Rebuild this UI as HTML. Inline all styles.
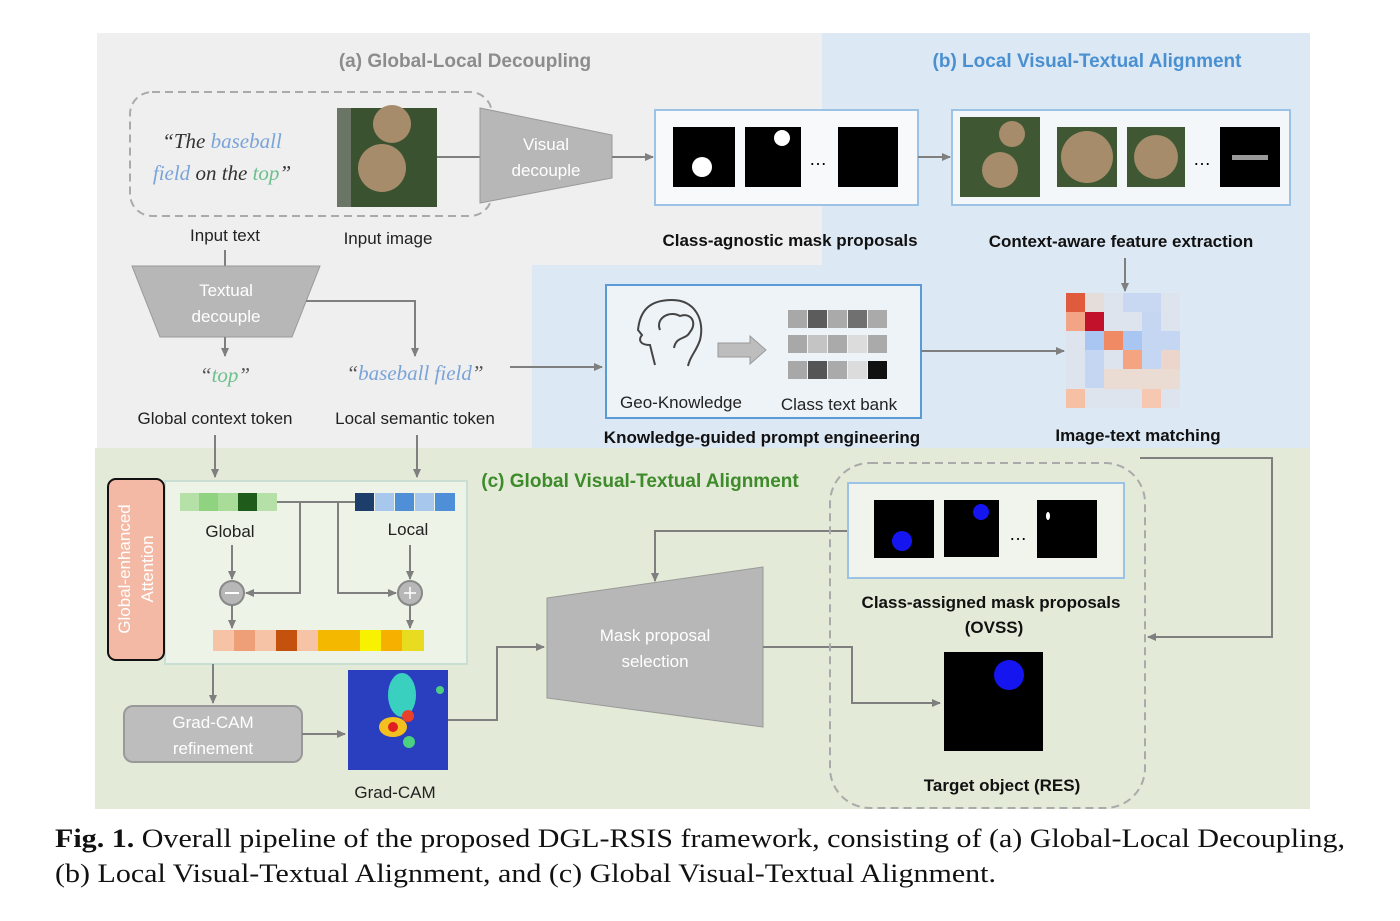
<!DOCTYPE html>
<html><head><meta charset="utf-8"><style>
html,body{margin:0;padding:0;background:#fff;width:1400px;height:921px;overflow:hidden}
svg{display:block}
.s{font-family:"Liberation Sans",sans-serif}
</style></head><body>
<svg width="1400" height="921" viewBox="0 0 1400 921" xmlns="http://www.w3.org/2000/svg" class="s">
<defs>
<marker id="a" markerWidth="10" markerHeight="10" refX="8" refY="5" orient="auto" markerUnits="userSpaceOnUse"><path d="M0,1 L9,5 L0,9 Z" fill="#7f7f7f"/></marker>
</defs>
<!-- backgrounds -->
<rect x="97" y="33" width="1213" height="416" fill="#efefef"/>
<rect x="822" y="33" width="488" height="233" fill="#dce8f4"/>
<rect x="532" y="265" width="778" height="184" fill="#dce8f4"/>
<rect x="95" y="448" width="1215" height="361" fill="#e3ead7"/>

<text x="465" y="67" font-size="19" font-weight="bold" fill="#8c8c8c" text-anchor="middle">(a) Global-Local Decoupling</text>
<text x="1087" y="67" font-size="19" font-weight="bold" fill="#4a90d0" text-anchor="middle">(b) Local Visual-Textual Alignment</text>
<text x="640" y="487" font-size="19" font-weight="bold" fill="#3d8b2a" text-anchor="middle">(c) Global Visual-Textual Alignment</text>

<!-- input dashed -->
<rect x="130" y="92" width="362" height="124" rx="22" fill="none" stroke="#aaa" stroke-width="2" stroke-dasharray="8,5"/>
<text x="222" y="148" font-size="21" text-anchor="middle" font-family="Liberation Serif,serif" font-style="italic"><tspan fill="#333">“The </tspan><tspan fill="#7aa3d8">baseball</tspan></text>
<text x="222" y="180" font-size="21" text-anchor="middle" font-family="Liberation Serif,serif" font-style="italic"><tspan fill="#7aa3d8">field</tspan><tspan fill="#333"> on the </tspan><tspan fill="#6cc08a">top</tspan><tspan fill="#333">”</tspan></text>
<rect x="337" y="108" width="100" height="99" fill="#3a5230"/>
<rect x="337" y="108" width="14" height="99" fill="#6b7566"/>
<circle cx="392" cy="124" r="19" fill="#a68c6a"/>
<circle cx="382" cy="168" r="24" fill="#a68c6a"/>
<line x1="437" y1="157" x2="480" y2="157" stroke="#7f7f7f" stroke-width="2"/>
<polygon points="480,108 612,135 612,178 480,203" fill="#b7b7b7" stroke="#999"/>
<text x="546" y="150" font-size="17" fill="#fff" text-anchor="middle">Visual</text>
<text x="546" y="176" font-size="17" fill="#fff" text-anchor="middle">decouple</text>
<line x1="612" y1="157" x2="653" y2="157" stroke="#7f7f7f" stroke-width="2" marker-end="url(#a)"/>

<rect x="655" y="110" width="263" height="95" fill="#f7f9fb" stroke="#9cc3e5" stroke-width="2"/>
<rect x="673" y="127" width="62" height="60" fill="#000"/><circle cx="702" cy="167" r="10" fill="#fff"/>
<rect x="745" y="127" width="56" height="60" fill="#000"/><circle cx="782" cy="138" r="8" fill="#fff"/>
<text x="818" y="165" font-size="18" text-anchor="middle">…</text>
<rect x="838" y="127" width="60" height="60" fill="#000"/>
<text x="790" y="246" font-size="17" font-weight="bold" text-anchor="middle" fill="#111">Class-agnostic mask proposals</text>
<line x1="918" y1="157" x2="950" y2="157" stroke="#7f7f7f" stroke-width="2" marker-end="url(#a)"/>

<rect x="952" y="110" width="338" height="95" fill="#f4f7fa" stroke="#9cc3e5" stroke-width="2"/>
<rect x="960" y="117" width="80" height="80" fill="#3f5733"/><circle cx="1012" cy="134" r="13" fill="#a68c6a"/><circle cx="1000" cy="170" r="18" fill="#a68c6a"/>
<rect x="1057" y="127" width="60" height="60" fill="#3f5733"/><circle cx="1087" cy="157" r="26" fill="#a68c6a"/>
<rect x="1127" y="127" width="58" height="60" fill="#3f5733"/><circle cx="1156" cy="157" r="22" fill="#a68c6a"/>
<text x="1202" y="165" font-size="18" text-anchor="middle">…</text>
<rect x="1220" y="127" width="60" height="60" fill="#000"/><rect x="1232" y="155" width="36" height="5" fill="#999"/>
<text x="1121" y="247" font-size="17" font-weight="bold" text-anchor="middle" fill="#111">Context-aware feature extraction</text>
<line x1="1125" y1="258" x2="1125" y2="291" stroke="#7f7f7f" stroke-width="2" marker-end="url(#a)"/>

<!-- matrix -->
<g>
<rect x="1066" y="293" width="114" height="115" fill="#dde4ee"/>
<rect x="1066" y="293" width="19" height="19" fill="#e05a3e"/>
<rect x="1085" y="293" width="19" height="19" fill="#e4ddda"/>
<rect x="1123" y="293" width="38" height="19" fill="#c8d8f3"/>
<rect x="1066" y="312" width="19" height="19" fill="#f3a386"/>
<rect x="1085" y="312" width="19" height="19" fill="#c2112a"/>
<rect x="1142" y="312" width="19" height="19" fill="#c5d6f2"/>
<rect x="1085" y="331" width="19" height="19" fill="#a9c5f2"/>
<rect x="1104" y="331" width="19" height="19" fill="#ef8a64"/>
<rect x="1123" y="331" width="19" height="19" fill="#a9c5f2"/>
<rect x="1142" y="331" width="38" height="19" fill="#c5d6f2"/>
<rect x="1085" y="350" width="19" height="38" fill="#c5d6f2"/>
<rect x="1123" y="350" width="19" height="19" fill="#f5a482"/>
<rect x="1142" y="350" width="19" height="19" fill="#c5d6f2"/>
<rect x="1161" y="350" width="19" height="19" fill="#ecd6cc"/>
<rect x="1104" y="369" width="76" height="20" fill="#eadbd3"/>
<rect x="1066" y="389" width="19" height="19" fill="#f6c0a4"/>
<rect x="1142" y="389" width="19" height="19" fill="#f6c8b2"/>
</g>
<text x="1138" y="441" font-size="17" font-weight="bold" text-anchor="middle" fill="#111">Image-text matching</text>

<!-- knowledge box -->
<rect x="606" y="285" width="315" height="133" fill="#eef3f8" stroke="#5b9bd5" stroke-width="2"/>
<g fill="none" stroke="#444" stroke-width="2">
<path d="M655,365 L650,345 C640,345 638,340 642,335 L638,330 C640,310 650,300 672,300 C695,300 705,320 700,340 C696,352 690,356 688,366"/>
<path d="M660,330 C655,318 670,310 680,316 C690,312 698,322 690,332 C686,340 676,336 674,348"/>
</g>
<polygon points="718,343 750,343 750,336 766,350 750,364 750,357 718,357" fill="#bdbdbd" stroke="#999"/>
<g>
<rect x="788" y="310" width="19" height="18" fill="#a8a8a8"/><rect x="808" y="310" width="19" height="18" fill="#5c5c5c"/><rect x="828" y="310" width="19" height="18" fill="#aaa"/><rect x="848" y="310" width="19" height="18" fill="#707070"/><rect x="868" y="310" width="19" height="18" fill="#aaa"/>
<rect x="788" y="335" width="19" height="18" fill="#a8a8a8"/><rect x="808" y="335" width="19" height="18" fill="#c4c4c4"/><rect x="828" y="335" width="19" height="18" fill="#aaa"/><rect x="848" y="335" width="19" height="18" fill="#dcdcdc"/><rect x="868" y="335" width="19" height="18" fill="#aaa"/>
<rect x="788" y="361" width="19" height="18" fill="#a8a8a8"/><rect x="808" y="361" width="19" height="18" fill="#555"/><rect x="828" y="361" width="19" height="18" fill="#aaa"/><rect x="848" y="361" width="19" height="18" fill="#dcdcdc"/><rect x="868" y="361" width="19" height="18" fill="#111"/>
</g>
<text x="681" y="408" font-size="17" text-anchor="middle" fill="#222">Geo-Knowledge</text>
<text x="839" y="410" font-size="17" text-anchor="middle" fill="#222">Class text bank</text>
<line x1="921" y1="351" x2="1064" y2="351" stroke="#7f7f7f" stroke-width="2" marker-end="url(#a)"/>
<text x="762" y="443" font-size="17" font-weight="bold" text-anchor="middle" fill="#111">Knowledge-guided prompt engineering</text>

<!-- text branch -->
<text x="225" y="241" font-size="17" text-anchor="middle" fill="#222">Input text</text>
<text x="388" y="244" font-size="17" text-anchor="middle" fill="#222">Input image</text>
<line x1="225" y1="250" x2="225" y2="266" stroke="#7f7f7f" stroke-width="2"/>
<polygon points="132,266 320,266 292,337 160,337" fill="#b7b7b7" stroke="#999"/>
<text x="226" y="296" font-size="17" fill="#fff" text-anchor="middle">Textual</text>
<text x="226" y="322" font-size="17" fill="#fff" text-anchor="middle">decouple</text>
<polyline points="306,301 415,301 415,356" fill="none" stroke="#7f7f7f" stroke-width="2" marker-end="url(#a)"/>
<line x1="225" y1="337" x2="225" y2="356" stroke="#7f7f7f" stroke-width="2" marker-end="url(#a)"/>
<text x="225" y="382" font-size="21" text-anchor="middle" font-family="Liberation Serif,serif" font-style="italic"><tspan fill="#555">“</tspan><tspan fill="#6cc08a">top</tspan><tspan fill="#555">”</tspan></text>
<text x="415" y="380" font-size="21" text-anchor="middle" font-family="Liberation Serif,serif" font-style="italic"><tspan fill="#555">“</tspan><tspan fill="#7aa3d8">baseball field</tspan><tspan fill="#555">”</tspan></text>
<line x1="510" y1="367" x2="602" y2="367" stroke="#7f7f7f" stroke-width="2" marker-end="url(#a)"/>
<text x="215" y="424" font-size="17" text-anchor="middle" fill="#222">Global context token</text>
<text x="415" y="424" font-size="17" text-anchor="middle" fill="#222">Local semantic token</text>
<line x1="215" y1="435" x2="215" y2="477" stroke="#7f7f7f" stroke-width="2" marker-end="url(#a)"/>
<line x1="417" y1="435" x2="417" y2="477" stroke="#7f7f7f" stroke-width="2" marker-end="url(#a)"/>

<!-- attention -->
<rect x="165" y="481" width="302" height="183" fill="#eef3e8" stroke="#c9dfd4" stroke-width="2"/>
<rect x="108" y="479" width="56" height="181" rx="8" fill="#f4b9a4" stroke="#111" stroke-width="2"/>
<text transform="translate(130,569) rotate(-90)" font-size="17" fill="#fff" text-anchor="middle">Global-enhanced</text>
<text transform="translate(153,569) rotate(-90)" font-size="17" fill="#fff" text-anchor="middle">Attention</text>
<rect x="180" y="493" width="19" height="18" fill="#b5e0a8"/><rect x="199" y="493" width="19" height="18" fill="#8fd27f"/><rect x="218" y="493" width="20" height="18" fill="#a8dc98"/><rect x="238" y="493" width="19" height="18" fill="#1f5c1c"/><rect x="257" y="493" width="20" height="18" fill="#b5e0a8"/>
<rect x="355" y="493" width="19" height="18" fill="#1d3d6b"/><rect x="375" y="493" width="19" height="18" fill="#a7c8ec"/><rect x="395" y="493" width="19" height="18" fill="#4f8fd8"/><rect x="415" y="493" width="19" height="18" fill="#a7c8ec"/><rect x="435" y="493" width="20" height="18" fill="#4f8fd8"/>
<line x1="277" y1="502" x2="355" y2="502" stroke="#7f7f7f" stroke-width="2"/>
<polyline points="300,502 300,593 246,593" fill="none" stroke="#7f7f7f" stroke-width="2" marker-end="url(#a)"/>
<polyline points="338,502 338,593 396,593" fill="none" stroke="#7f7f7f" stroke-width="2" marker-end="url(#a)"/>
<text x="230" y="537" font-size="17" text-anchor="middle" fill="#222">Global</text>
<text x="408" y="535" font-size="17" text-anchor="middle" fill="#222">Local</text>
<line x1="232" y1="545" x2="232" y2="579" stroke="#7f7f7f" stroke-width="2" marker-end="url(#a)"/>
<line x1="410" y1="545" x2="410" y2="579" stroke="#7f7f7f" stroke-width="2" marker-end="url(#a)"/>
<circle cx="232" cy="593" r="12" fill="#b7b7b7" stroke="#888" stroke-width="2"/><line x1="225" y1="593" x2="239" y2="593" stroke="#fff" stroke-width="2"/>
<circle cx="410" cy="593" r="12" fill="#b7b7b7" stroke="#888" stroke-width="2"/><line x1="404" y1="593" x2="416" y2="593" stroke="#fff" stroke-width="1.5"/><line x1="410" y1="587" x2="410" y2="599" stroke="#fff" stroke-width="1.5"/>
<line x1="232" y1="605" x2="232" y2="628" stroke="#7f7f7f" stroke-width="2" marker-end="url(#a)"/>
<line x1="410" y1="605" x2="410" y2="628" stroke="#7f7f7f" stroke-width="2" marker-end="url(#a)"/>
<g>
<rect x="213" y="630" width="21" height="21" fill="#f6c3a6"/><rect x="234" y="630" width="21" height="21" fill="#ef9f78"/><rect x="255" y="630" width="21" height="21" fill="#f6c3a6"/><rect x="276" y="630" width="21" height="21" fill="#c4520e"/><rect x="297" y="630" width="21" height="21" fill="#f6c3a6"/><rect x="318" y="630" width="21" height="21" fill="#f5b800"/><rect x="339" y="630" width="21" height="21" fill="#f5b800"/><rect x="360" y="630" width="21" height="21" fill="#f8f200"/><rect x="381" y="630" width="21" height="21" fill="#f5b000"/><rect x="402" y="630" width="22" height="21" fill="#e8dc20"/>
</g>

<!-- grad-cam -->
<line x1="213" y1="664" x2="213" y2="703" stroke="#7f7f7f" stroke-width="2" marker-end="url(#a)"/>
<rect x="124" y="706" width="178" height="56" rx="9" fill="#bdbdbd" stroke="#999" stroke-width="2"/>
<text x="213" y="728" font-size="17" fill="#fff" text-anchor="middle">Grad-CAM</text>
<text x="213" y="754" font-size="17" fill="#fff" text-anchor="middle">refinement</text>
<line x1="302" y1="734" x2="345" y2="734" stroke="#7f7f7f" stroke-width="2" marker-end="url(#a)"/>
<rect x="348" y="670" width="100" height="100" fill="#2a3fc0"/>
<ellipse cx="402" cy="695" rx="14" ry="22" fill="#3ad0c0"/><circle cx="408" cy="716" r="6" fill="#e8402a"/>
<ellipse cx="393" cy="727" rx="14" ry="10" fill="#f3c020"/><circle cx="393" cy="727" r="5" fill="#e02020"/>
<circle cx="409" cy="742" r="6" fill="#4ad080"/><circle cx="440" cy="690" r="4" fill="#4ad080"/>
<text x="395" y="798" font-size="17" text-anchor="middle" fill="#222">Grad-CAM</text>
<polyline points="448,720 497,720 497,647 544,647" fill="none" stroke="#7f7f7f" stroke-width="2" marker-end="url(#a)"/>

<polygon points="547,598 763,567 763,727 547,698" fill="#b7b7b7" stroke="#999"/>
<text x="655" y="641" font-size="17" fill="#fff" text-anchor="middle">Mask proposal</text>
<text x="655" y="667" font-size="17" fill="#fff" text-anchor="middle">selection</text>
<polyline points="763,647 852,647 852,703 940,703" fill="none" stroke="#7f7f7f" stroke-width="2" marker-end="url(#a)"/>
<polyline points="848,531 655,531 655,581" fill="none" stroke="#7f7f7f" stroke-width="2" marker-end="url(#a)"/>

<rect x="830" y="463" width="315" height="345" rx="40" fill="none" stroke="#aaa" stroke-width="2" stroke-dasharray="8,5"/>
<rect x="848" y="483" width="276" height="95" fill="#f1f4ec" stroke="#9cc3e5" stroke-width="2"/>
<rect x="874" y="500" width="60" height="58" fill="#000"/><circle cx="902" cy="541" r="10" fill="#1515f0"/>
<rect x="944" y="500" width="55" height="57" fill="#000"/><circle cx="981" cy="512" r="8" fill="#1515f0"/>
<text x="1018" y="540" font-size="18" text-anchor="middle">…</text>
<rect x="1037" y="500" width="60" height="58" fill="#000"/><ellipse cx="1048" cy="516" rx="2" ry="4" fill="#fff"/>
<text x="991" y="608" font-size="17" font-weight="bold" text-anchor="middle" fill="#111">Class-assigned mask proposals</text>
<text x="994" y="633" font-size="17" font-weight="bold" text-anchor="middle" fill="#111">(OVSS)</text>
<rect x="944" y="652" width="99" height="99" fill="#000"/><circle cx="1009" cy="675" r="15" fill="#1515f0"/>
<text x="1002" y="791" font-size="17" font-weight="bold" text-anchor="middle" fill="#111">Target object (RES)</text>
<polyline points="1140,458 1272,458 1272,637 1148,637" fill="none" stroke="#7f7f7f" stroke-width="2" marker-end="url(#a)"/>

<!-- caption -->
<text x="55" y="847" font-size="26" font-family="Liberation Serif,serif" fill="#111" textLength="1290" lengthAdjust="spacingAndGlyphs"><tspan font-weight="bold">Fig. 1.</tspan> Overall pipeline of the proposed DGL-RSIS framework, consisting of (a) Global-Local Decoupling,</text>
<text x="55" y="882" font-size="26" font-family="Liberation Serif,serif" fill="#111" textLength="941" lengthAdjust="spacingAndGlyphs">(b) Local Visual-Textual Alignment, and (c) Global Visual-Textual Alignment.</text>
</svg>
</body></html>
